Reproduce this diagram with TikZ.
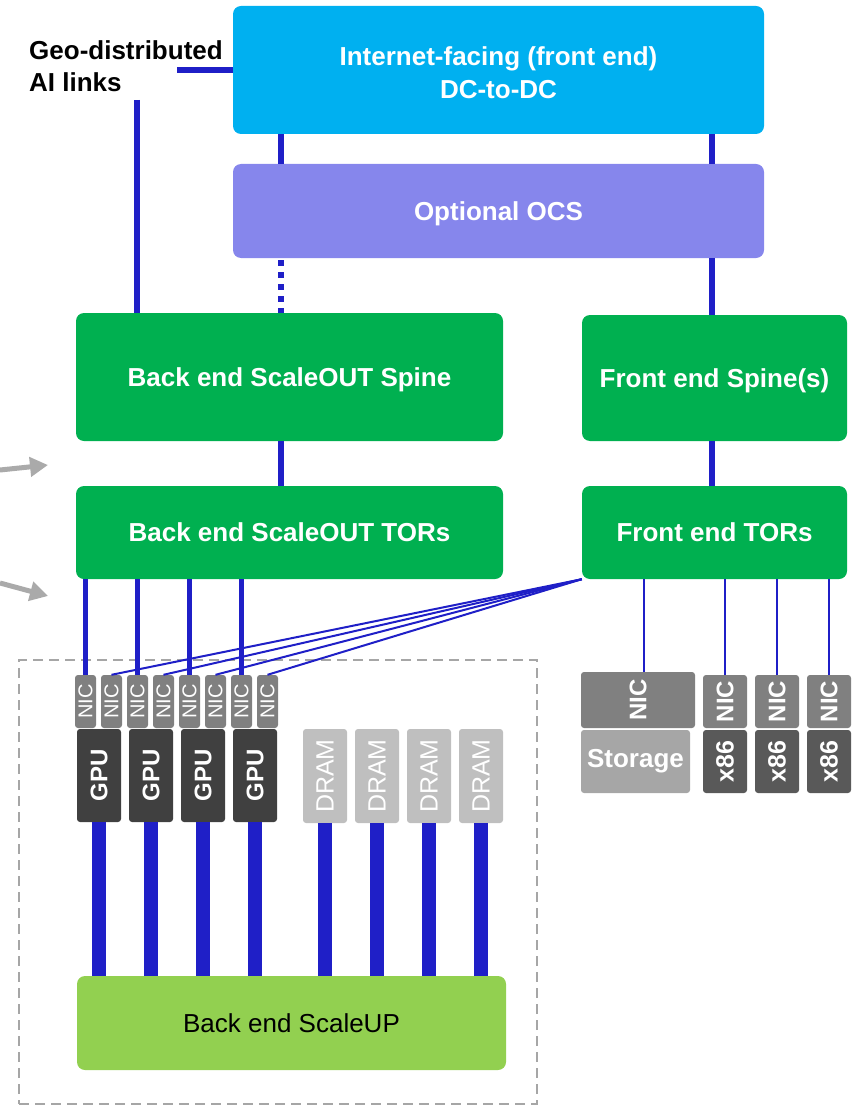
\documentclass[tikz,border=0pt]{standalone}
\usepackage{fontspec}
\setmainfont{Liberation Sans}
\usepackage{xcolor}
\usetikzlibrary{arrows.meta,positioning}

\definecolor{inetblue}{RGB}{0,176,240}
\definecolor{ocspurple}{RGB}{134,134,236}
\definecolor{spinegreen}{RGB}{0,176,80}
\definecolor{upgreen}{RGB}{146,208,80}
\definecolor{linkblue}{RGB}{31,31,199}
\definecolor{nicgray}{RGB}{128,128,128}
\definecolor{gpugray}{RGB}{64,64,64}
\definecolor{dramgray}{RGB}{191,191,191}
\definecolor{storegray}{RGB}{166,166,166}
\definecolor{cpugray}{RGB}{89,89,89}
\definecolor{arrowgray}{RGB}{170,170,170}

\begin{document}
\begin{tikzpicture}[
    x=1pt, y=-1pt,
    bigbox/.style={rectangle, rounded corners=8pt, inner sep=0pt, text=white, font=\fontsize{26}{33}\selectfont\bfseries, align=center, text depth=0pt},
    inetbox/.style={bigbox, fill=inetblue, text height=57pt},
    ocsbox/.style={bigbox, fill=ocspurple},
    greenbox/.style={bigbox, fill=spinegreen},
    upbox/.style={bigbox, fill=upgreen, text=black, font=\fontsize{26}{32}\selectfont},
    geolabel/.style={inner sep=0pt, align=left, font=\fontsize{26}{32}\selectfont\bfseries},
    smallbox/.style={rectangle, rounded corners=3pt, inner sep=0pt, text=white},
    nicsmall/.style={smallbox, fill=nicgray, minimum width=21pt, minimum height=53pt, font=\fontsize{20}{24}\selectfont},
    gpubox/.style={smallbox, fill=gpugray, minimum width=44pt, minimum height=93pt, font=\fontsize{24}{28}\selectfont\bfseries},
    drambox/.style={smallbox, fill=dramgray, minimum width=44pt, minimum height=94pt, font=\fontsize{25}{30}\selectfont},
    nicbig/.style={smallbox, fill=nicgray, minimum height=53pt, font=\fontsize{24}{28}\selectfont\bfseries},
    storebox/.style={smallbox, fill=storegray, minimum width=109pt, minimum height=63pt, font=\fontsize{26}{30}\selectfont\bfseries},
    cpubox/.style={smallbox, fill=cpugray, minimum width=44pt, minimum height=63pt, font=\fontsize{25}{30}\selectfont\bfseries},
    podframe/.style={rectangle, draw=storegray, line width=2.5pt, dash pattern=on 10pt off 6pt},
    link/.style={linkblue, line width=5.5pt},
    dotlink/.style={dash pattern=on 5.5pt off 6.5pt, dash phase=10pt},
    thinlink/.style={linkblue, line width=2pt},
    bar/.style={linkblue, line width=14pt},
    grayarrow/.style={->, >={Triangle[length=18pt 0 0, width=19pt 0 0]}, arrowgray, line width=5pt}
]
    \useasboundingbox (0,0) rectangle (856,1107);

    % Pod frame
    \node[podframe, minimum width=518pt, minimum height=444pt] (pod) at (278,882) {};

    % Network tiers
    \node[inetbox, minimum width=531pt, minimum height=128pt] (inet) at (498.5,70) {Internet-facing (front end)\\DC-to-DC};
    \node[ocsbox, minimum width=531pt, minimum height=94pt] (ocs) at (498.5,211) {Optional OCS};
    \node[greenbox, minimum width=427pt, minimum height=128pt] (bspine) at (289.5,377) {Back end ScaleOUT Spine};
    \node[greenbox, minimum width=265pt, minimum height=126pt] (fspine) at (714.5,378) {Front end Spine(s)};
    \node[greenbox, minimum width=427pt, minimum height=93pt] (btor) at (289.5,532.5) {Back end ScaleOUT TORs};
    \node[greenbox, minimum width=265pt, minimum height=93pt] (ftor) at (714.5,532.5) {Front end TORs};
    \node[geolabel, anchor=north west] (geo) at (29,40) {Geo-distributed\\AI links};

    % NICs and GPUs
    \node[nicsmall] (nic1) at (85.5,701.5) {\rotatebox{90}{NIC}};
    \node[nicsmall] (nic2) at (111.5,701.5) {\rotatebox{90}{NIC}};
    \node[nicsmall] (nic3) at (137.5,701.5) {\rotatebox{90}{NIC}};
    \node[nicsmall] (nic4) at (163.5,701.5) {\rotatebox{90}{NIC}};
    \node[nicsmall] (nic5) at (189.5,701.5) {\rotatebox{90}{NIC}};
    \node[nicsmall] (nic6) at (215.5,701.5) {\rotatebox{90}{NIC}};
    \node[nicsmall] (nic7) at (241.5,701.5) {\rotatebox{90}{NIC}};
    \node[nicsmall] (nic8) at (267.5,701.5) {\rotatebox{90}{NIC}};
    \node[gpubox] (gpu1) at (99,775.5) {\rotatebox{90}{GPU}};
    \node[gpubox] (gpu2) at (151,775.5) {\rotatebox{90}{GPU}};
    \node[gpubox] (gpu3) at (203,775.5) {\rotatebox{90}{GPU}};
    \node[gpubox] (gpu4) at (255,775.5) {\rotatebox{90}{GPU}};

    % Memory
    \node[drambox] (dram1) at (325,776) {\rotatebox{90}{DRAM}};
    \node[drambox] (dram2) at (377,776) {\rotatebox{90}{DRAM}};
    \node[drambox] (dram3) at (429,776) {\rotatebox{90}{DRAM}};
    \node[drambox] (dram4) at (481,776) {\rotatebox{90}{DRAM}};
    \node[upbox, minimum width=429pt, minimum height=94pt] (scaleup) at (291.5,1023) {Back end ScaleUP};

    % Front end hosts
    \node[nicbig, minimum width=114pt, minimum height=56pt] (snic) at (638,700) {\rotatebox{90}{NIC}};
    \node[storebox] (storage) at (635.5,761.5) {Storage};
    \node[nicbig, minimum width=44pt] (xnic1) at (725,701.5) {\rotatebox{90}{NIC}};
    \node[nicbig, minimum width=44pt] (xnic2) at (777,701.5) {\rotatebox{90}{NIC}};
    \node[nicbig, minimum width=44pt] (xnic3) at (829,701.5) {\rotatebox{90}{NIC}};
    \node[cpubox] (cpu1) at (725,761.5) {\rotatebox{90}{x86}};
    \node[cpubox] (cpu2) at (777,761.5) {\rotatebox{90}{x86}};
    \node[cpubox] (cpu3) at (829,761.5) {\rotatebox{90}{x86}};

    % Helper coordinates
    \coordinate (bx) at (281,0);
    \coordinate (fx) at (712,0);
    \coordinate (geo1) at (177,70);
    \coordinate (geo2) at (137,100);
    \coordinate (in1) at (0,470);
    \coordinate (tip1) at (48,465);
    \coordinate (in2) at (0,583);
    \coordinate (tip2) at (48,596);

    % Uplinks
    \draw[link] (geo1) -- (geo1 -| inet.west);
    \draw[link] (geo2) -- (geo2 |- bspine.north);
    \draw[link] (inet.south -| bx) -- (ocs.north -| bx);
    \draw[link] (inet.south -| fx) -- (ocs.north -| fx);
    \draw[link, dotlink] (ocs.south -| bx) -- (bspine.north -| bx);
    \draw[link] (ocs.south -| fx) -- (fspine.north -| fx);
    \draw[link] (bspine.south -| bx) -- (btor.north -| bx);
    \draw[link] (fspine.south -| fx) -- (ftor.north -| fx);

    % Front end links
    \draw[thinlink] (nic2.north) -- (ftor.south west);
    \draw[thinlink] (nic4.north) -- (ftor.south west);
    \draw[thinlink] (nic6.north) -- (ftor.south west);
    \draw[thinlink] (nic8.north) -- (ftor.south west);
    \draw[thinlink] ([xshift=6pt]snic.north) -- ([xshift=6pt]snic.north |- ftor.south);
    \draw[thinlink] (xnic1.north) -- (xnic1.north |- ftor.south);
    \draw[thinlink] (xnic2.north) -- (xnic2.north |- ftor.south);
    \draw[thinlink] (xnic3.north) -- (xnic3.north |- ftor.south);

    % Back end links
    \draw[link] (btor.south -| nic1.north) -- (nic1.north);
    \draw[link] (btor.south -| nic3.north) -- (nic3.north);
    \draw[link] (btor.south -| nic5.north) -- (nic5.north);
    \draw[link] (btor.south -| nic7.north) -- (nic7.north);

    % ScaleUP links
    \draw[bar] (gpu1.south) -- (gpu1.south |- scaleup.north);
    \draw[bar] (gpu2.south) -- (gpu2.south |- scaleup.north);
    \draw[bar] (gpu3.south) -- (gpu3.south |- scaleup.north);
    \draw[bar] (gpu4.south) -- (gpu4.south |- scaleup.north);
    \draw[bar] (dram1.south) -- (dram1.south |- scaleup.north);
    \draw[bar] (dram2.south) -- (dram2.south |- scaleup.north);
    \draw[bar] (dram3.south) -- (dram3.south |- scaleup.north);
    \draw[bar] (dram4.south) -- (dram4.south |- scaleup.north);

    % Pointers
    \draw[grayarrow] (in1) -- (tip1);
    \draw[grayarrow] (in2) -- (tip2);
\end{tikzpicture}
\end{document}
